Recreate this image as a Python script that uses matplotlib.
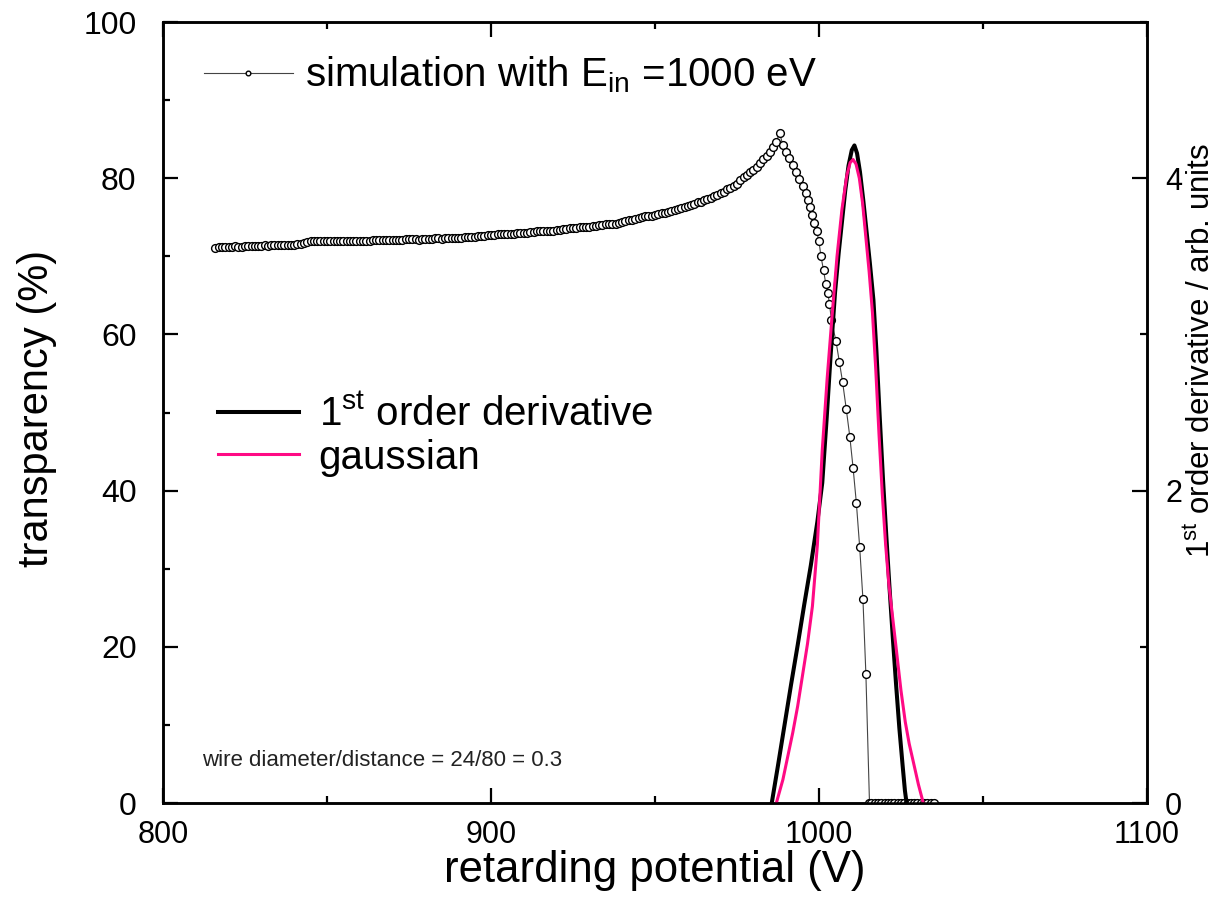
import numpy as np
import matplotlib
matplotlib.use('Agg')
import matplotlib.pyplot as plt
from matplotlib.ticker import MultipleLocator

plt.rcParams['font.family'] = ['Liberation Sans', 'DejaVu Sans']
plt.rcParams['mathtext.fontset'] = 'custom'
plt.rcParams['mathtext.rm'] = 'Liberation Sans'
plt.rcParams['mathtext.it'] = 'Liberation Sans:italic'

# simulated transparency (%), rising part on a 1 V grid
rise_v = list(range(816, 989))
rise_t = [
    71.1, 71.2, 71.2, 71.2, 71.2, 71.2, 71.3, 71.2, 71.2, 71.3,
    71.3, 71.3, 71.3, 71.3, 71.3, 71.4, 71.3, 71.4, 71.4, 71.4,
    71.4, 71.4, 71.5, 71.5, 71.5, 71.6, 71.6, 71.7, 71.8, 71.9,
    71.9, 71.9, 71.9, 71.9, 71.9, 71.9, 71.9, 72.0, 71.9, 71.9,
    71.9, 72.0, 72.0, 72.0, 72.0, 72.0, 72.0, 72.0, 72.1, 72.1,
    72.1, 72.1, 72.1, 72.1, 72.1, 72.1, 72.1, 72.1, 72.2, 72.2,
    72.2, 72.2, 72.1, 72.2, 72.2, 72.2, 72.2, 72.3, 72.3, 72.2,
    72.3, 72.3, 72.4, 72.3, 72.4, 72.4, 72.5, 72.5, 72.5, 72.5,
    72.6, 72.6, 72.6, 72.7, 72.7, 72.7, 72.8, 72.8, 72.8, 72.9,
    72.9, 72.9, 73.0, 73.0, 73.0, 73.0, 73.1, 73.1, 73.2, 73.2,
    73.2, 73.3, 73.3, 73.3, 73.4, 73.4, 73.5, 73.5, 73.6, 73.6,
    73.6, 73.7, 73.7, 73.8, 73.8, 73.9, 73.9, 74.0, 74.0, 74.1,
    74.1, 74.2, 74.2, 74.3, 74.4, 74.5, 74.6, 74.7, 74.8, 74.9,
    75.0, 75.1, 75.1, 75.2, 75.3, 75.4, 75.5, 75.6, 75.7, 75.8,
    75.9, 76.0, 76.2, 76.3, 76.4, 76.6, 76.7, 76.9, 77.0, 77.2,
    77.3, 77.5, 77.7, 77.9, 78.1, 78.3, 78.6, 78.8, 79.0, 79.3,
    79.8, 80.1, 80.4, 80.8, 81.1, 81.5, 81.9, 82.4, 82.9, 83.4,
    84.0, 84.7, 85.8,
]
# falling part, read point by point
fall_v = [989.0, 990.0, 991.0, 992.0, 993.0, 994.0, 995.0, 996.0, 996.8, 997.4,
          998.0, 998.6, 999.3, 1000.0, 1000.6, 1001.4, 1002.1, 1002.7, 1003.2, 1003.8,
          1005.2, 1006.2, 1007.2, 1008.3, 1009.4, 1010.4, 1011.4, 1012.4, 1013.4, 1014.3,
          1015.4]
fall_t = [84.2, 83.4, 82.6, 81.7, 80.8, 79.9, 79.0, 78.1, 77.2, 76.3,
          75.3, 74.3, 73.2, 71.9, 70.0, 68.2, 66.4, 65.3, 63.9, 61.8,
          59.1, 56.5, 53.9, 50.5, 46.9, 42.9, 38.4, 32.8, 26.1, 16.5,
          0.0]
tail_v = list(range(1016, 1036))
tail_t = [0.0] * len(tail_v)

sim_v = rise_v + fall_v + tail_v
sim_t = rise_t + fall_t + tail_t

# 1st order derivative (arb. units)
deriv_v = [985.6, 987.5, 989.5, 991.5, 993.5, 995.5, 997.5, 999.5, 1001.0, 1002.3,
           1003.5, 1004.9, 1006.0, 1007.0, 1008.0, 1009.0, 1010.0, 1010.8, 1011.6, 1012.5,
           1013.5, 1014.5, 1015.5, 1016.6, 1017.5, 1018.5, 1019.5, 1020.5, 1021.5, 1022.5,
           1023.5, 1024.5, 1025.5, 1026.2, 1026.7]
deriv_y = [0.00, 0.24, 0.50, 0.76, 1.01, 1.27, 1.52, 1.80, 2.05, 2.45,
           2.85, 3.27, 3.52, 3.72, 3.92, 4.08, 4.18, 4.21, 4.16, 4.04,
           3.86, 3.66, 3.46, 3.22, 2.90, 2.48, 2.08, 1.72, 1.38, 1.06,
           0.76, 0.48, 0.24, 0.08, 0.00]

# gaussian fit (arb. units)
gauss_v = [987.0, 989.0, 990.5, 992.0, 993.5, 995.0, 996.5, 998.0, 999.5, 1001.0,
           1002.5, 1004.0, 1005.5, 1007.0, 1008.5, 1009.5, 1010.4, 1011.3, 1012.3, 1013.3,
           1014.3, 1015.3, 1016.3, 1017.3, 1018.3, 1019.3, 1020.3, 1021.3, 1022.5, 1023.7,
           1025.0, 1026.3, 1027.5, 1028.8, 1030.3, 1031.8]
gauss_y = [0.00, 0.15, 0.30, 0.45, 0.62, 0.82, 1.02, 1.26, 1.65, 2.26,
           2.72, 3.12, 3.50, 3.80, 4.02, 4.10, 4.12, 4.09, 4.00, 3.84,
           3.62, 3.40, 3.14, 2.78, 2.36, 1.98, 1.66, 1.40, 1.18, 0.96,
           0.72, 0.52, 0.38, 0.26, 0.12, 0.00]

fig = plt.figure(figsize=(12.18, 9.14), dpi=100)
ax = fig.add_axes([0.1338, 0.1214, 0.8079, 0.8545])
ax2 = ax.twinx()

sim_line, = ax.plot(sim_v, sim_t, '-', color='#444444', lw=0.8, marker='o', ms=5.6,
                    mfc='white', mec='black', mew=1.0, zorder=3)
der_line, = ax2.plot(deriv_v, deriv_y, '-', color='black', lw=2.9)
gau_line, = ax2.plot(gauss_v, gauss_y, '-', color='#ff0a84', lw=2.2)

ax.set_xlim(800, 1100)
ax.set_ylim(0, 100)
ax2.set_ylim(0, 5)

ax.xaxis.set_major_locator(MultipleLocator(100))
ax.xaxis.set_minor_locator(MultipleLocator(50))
ax.yaxis.set_major_locator(MultipleLocator(20))
ax.yaxis.set_minor_locator(MultipleLocator(10))
ax2.yaxis.set_major_locator(MultipleLocator(2))
ax2.yaxis.set_minor_locator(MultipleLocator(1))

ax.tick_params(axis='x', which='both', direction='in', top=True, labelsize=22, pad=12)
ax.tick_params(axis='y', which='both', direction='in', labelsize=23, pad=19)
ax2.tick_params(axis='y', which='both', direction='in', labelsize=22, pad=13)
for a in (ax, ax2):
    a.tick_params(which='major', length=11, width=1.6)
    a.tick_params(which='minor', length=5, width=1.6)
    for s in a.spines.values():
        s.set_linewidth(1.8)

ax.set_xlabel('retarding potential (V)', fontsize=31.5)
ax.xaxis.set_label_coords(0.5, -0.060)
ax.set_ylabel('transparency (%)', fontsize=30)
ax.yaxis.set_label_coords(-0.1077, 0.505)
ax2.set_ylabel(r'1$^{\mathrm{st}}$ order derivative / arb. units', fontsize=22.5)
ax2.yaxis.set_label_coords(1.0405, 0.58)

ax.legend([sim_line], [r'simulation with E$_{\mathrm{in}}$ =1000 eV'],
          loc='center left', bbox_to_anchor=(0.0417, 0.932), frameon=False,
          fontsize=29, handlelength=2.2, handletextpad=0.3, borderpad=0,
          borderaxespad=0, markerscale=0.6)
ax2.legend([der_line, gau_line], [r'1$^{\mathrm{st}}$ order derivative', 'gaussian'],
           loc='center left', bbox_to_anchor=(0.0559, 0.470), frameon=False,
           fontsize=29, handlelength=2.0, handletextpad=0.5, borderpad=0,
           borderaxespad=0, labelspacing=0.12)

ax.text(0.040, 0.047, 'wire diameter/distance = 24/80 = 0.3', transform=ax.transAxes,
        fontsize=16, color='#222222')

fig.savefig('out.png', dpi=100)
